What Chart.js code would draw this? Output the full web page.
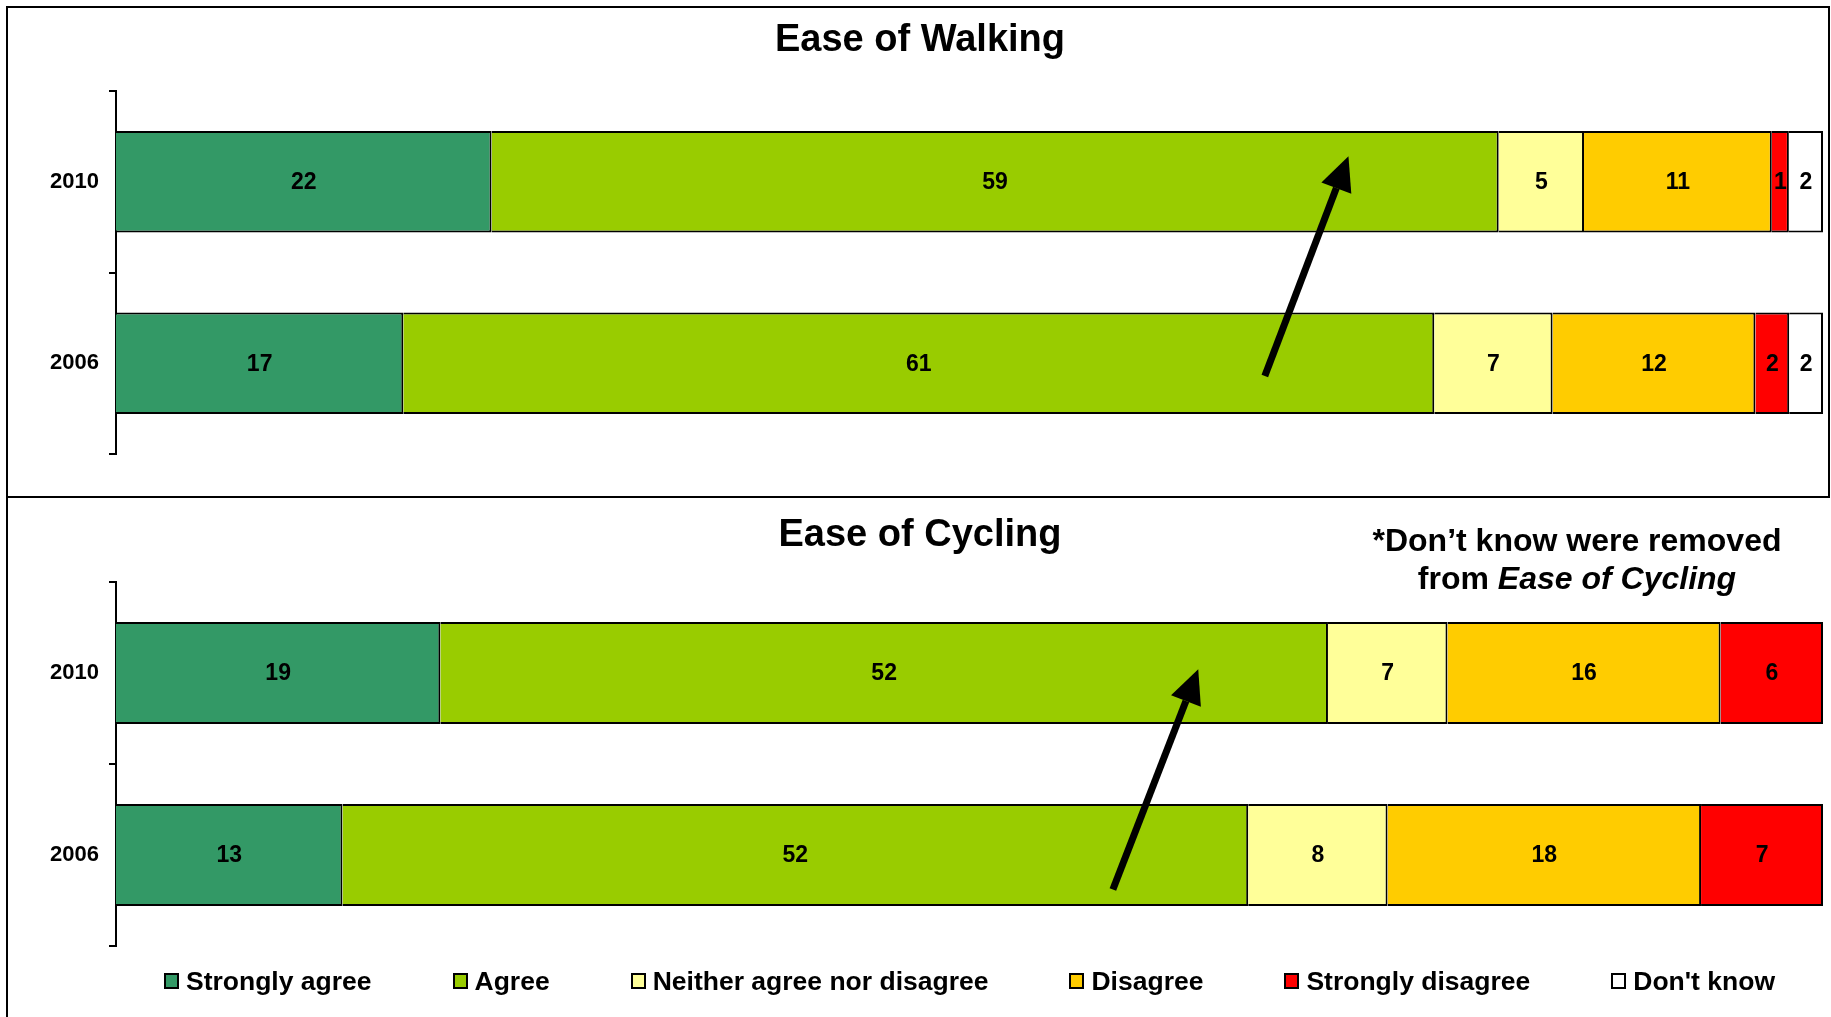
<!DOCTYPE html>
<html>
<head>
<meta charset="utf-8">
<script src="https://cdn.jsdelivr.net/npm/chart.js@4.4.1/dist/chart.umd.min.js"></script>
<style>
  body { margin: 0; background: #fff; width: 1831px; height: 1017px; position: relative; overflow: hidden;
         font-family: "Liberation Sans", Arial, sans-serif; }
  #frameTop { position: absolute; left: 6px; top: 6px; width: 1824px; height: 492px; border: 2px solid #000; box-sizing: border-box; }
  #frameLeft { position: absolute; left: 6px; top: 496px; width: 2px; height: 521px; background: #000; }
  #walk { position: absolute; left: 0; top: 0; }
  #cycle { position: absolute; left: 0; top: 497px; }
  #note { position: absolute; left: 1277px; top: 521px; width: 600px; text-align: center;
          font-size: 32px; font-weight: bold; line-height: 38px; color: #000; }
  #legend { position: absolute; left: 116px; top: 965px; width: 1707px; height: 32px;
            display: flex; justify-content: center; align-items: center; gap: 81px; }
  #legend .item { display: flex; align-items: center; font-size: 26.5px; font-weight: bold; color: #000; white-space: nowrap; }
  #legend .box { width: 15px; height: 16px; border: 2px solid #000; box-sizing: border-box; margin-right: 7px; }
</style>
</head>
<body>
<div id="frameTop"></div>
<div id="frameLeft"></div>
<canvas id="walk" width="1831" height="497"></canvas>
<canvas id="cycle" width="1831" height="520"></canvas>
<div id="note">*Don’t know were removed<br>from <i>Ease of Cycling</i></div>
<div id="legend"></div>
<script>
const years = ['2010', '2006'];
const responses = ['Strongly agree', 'Agree', 'Neither agree nor disagree', 'Disagree', 'Strongly disagree', "Don't know"];
const colours = ['#339966', '#99CC00', '#FFFF99', '#FFCC00', '#FF0000', '#FFFFFF'];

// Ease of Walking, [2010, 2006]
const walkStronglyAgree = [22, 17];
const walkAgree = [59, 61];
const walkNeither = [5, 7];
const walkDisagree = [11, 12];
const walkStronglyDisagree = [1, 2];
const walkDontKnow = [2, 2];

// Ease of Cycling, [2010, 2006] - don't know removed
const cycleStronglyAgree = [19, 13];
const cycleAgree = [52, 52];
const cycleNeither = [7, 8];
const cycleDisagree = [16, 18];
const cycleStronglyDisagree = [6, 7];
const cycleDontKnow = [null, null];

// arrows in data units: [percent, category index]
const walkArrow = { from: [67.3, 1.07], to: [72.2, -0.14] };
const cycleArrow = { from: [58.4, 1.19], to: [63.4, -0.02] };

Chart.defaults.font.family = '"Liberation Sans", Arial, sans-serif';
Chart.defaults.color = '#000';

function makeDatasets(series) {
  // 100% stacked: each year's row is scaled to its own total
  const totals = years.map((y, j) => series.reduce((s, row) => s + (row[j] || 0), 0));
  return series.map((row, i) => ({
    label: responses[i],
    counts: row,
    data: row.map((v, j) => v == null ? null : v / totals[j] * 100),
    backgroundColor: colours[i],
    borderColor: '#000',
    borderWidth: 2,
    barPercentage: 0.56,
    categoryPercentage: 1.0
  }));
}

const barLabels = {
  id: 'barLabels',
  afterDatasetsDraw(chart) {
    const ctx = chart.ctx;
    ctx.save();
    ctx.font = 'bold 23px "Liberation Sans", Arial, sans-serif';
    ctx.fillStyle = '#000';
    ctx.textAlign = 'center';
    ctx.textBaseline = 'middle';
    chart.data.datasets.forEach((ds, i) => {
      chart.getDatasetMeta(i).data.forEach((bar, j) => {
        const v = ds.counts[j];
        if (v == null) return;
        ctx.fillText(String(v), (bar.x + bar.base) / 2, bar.y + 1);
      });
    });
    ctx.restore();
  }
};

const arrow = {
  id: 'arrow',
  afterDatasetsDraw(chart, args, opts) {
    const ctx = chart.ctx;
    const sx = chart.scales.x, sy = chart.scales.y;
    const x0 = sx.getPixelForValue(opts.from[0]), y0 = sy.getPixelForValue(opts.from[1]);
    const x1 = sx.getPixelForValue(opts.to[0]), y1 = sy.getPixelForValue(opts.to[1]);
    const ang = Math.atan2(y1 - y0, x1 - x0);
    const len = 34, half = 16;
    const bx = x1 - len * Math.cos(ang), by = y1 - len * Math.sin(ang);
    ctx.save();
    ctx.strokeStyle = '#000';
    ctx.fillStyle = '#000';
    ctx.lineWidth = 7;
    ctx.beginPath();
    ctx.moveTo(x0, y0);
    ctx.lineTo(bx, by);
    ctx.stroke();
    ctx.beginPath();
    ctx.moveTo(x1, y1);
    ctx.lineTo(bx + half * Math.sin(ang), by - half * Math.cos(ang));
    ctx.lineTo(bx - half * Math.sin(ang), by + half * Math.cos(ang));
    ctx.closePath();
    ctx.fill();
    ctx.restore();
  }
};

function makeChart(id, title, series, arrowPos, pad, titleGap) {
  return new Chart(document.getElementById(id), {
    type: 'bar',
    data: { labels: years, datasets: makeDatasets(series) },
    plugins: [barLabels, arrow],
    options: {
      indexAxis: 'y',
      responsive: false,
      animation: false,
      layout: { padding: pad },
      scales: {
        x: { stacked: true, min: 0, max: 100, display: false },
        y: {
          stacked: true,
          grid: { drawOnChartArea: false, color: '#000', lineWidth: 2, tickLength: 7 },
          border: { color: '#000', width: 2 },
          ticks: { color: '#000', font: { size: 22, weight: 'bold' }, padding: 10 },
          afterFit(scale) { scale.width = 99; }
        }
      },
      plugins: {
        legend: { display: false },
        tooltip: { enabled: false },
        title: {
          display: true,
          text: title,
          color: '#000',
          font: { size: 38, weight: 'bold' },
          padding: { top: 0, bottom: titleGap }
        },
        arrow: arrowPos
      }
    }
  });
}

const walkChart = makeChart('walk', 'Ease of Walking',
  [walkStronglyAgree, walkAgree, walkNeither, walkDisagree, walkStronglyDisagree, walkDontKnow],
  walkArrow, { top: 17.7, left: 17, right: 8, bottom: 43 }, 27.7);

const cycleChart = makeChart('cycle', 'Ease of Cycling',
  [cycleStronglyAgree, cycleAgree, cycleNeither, cycleDisagree, cycleStronglyDisagree, cycleDontKnow],
  cycleArrow, { top: 15.8, left: 17, right: 8, bottom: 71 }, 23.6);

// shared legend under the cycling chart
const legend = document.getElementById('legend');
cycleChart.data.datasets.forEach(ds => {
  const item = document.createElement('div');
  item.className = 'item';
  const box = document.createElement('span');
  box.className = 'box';
  box.style.background = ds.backgroundColor;
  item.appendChild(box);
  item.appendChild(document.createTextNode(ds.label));
  legend.appendChild(item);
});
</script>
</body>
</html>
